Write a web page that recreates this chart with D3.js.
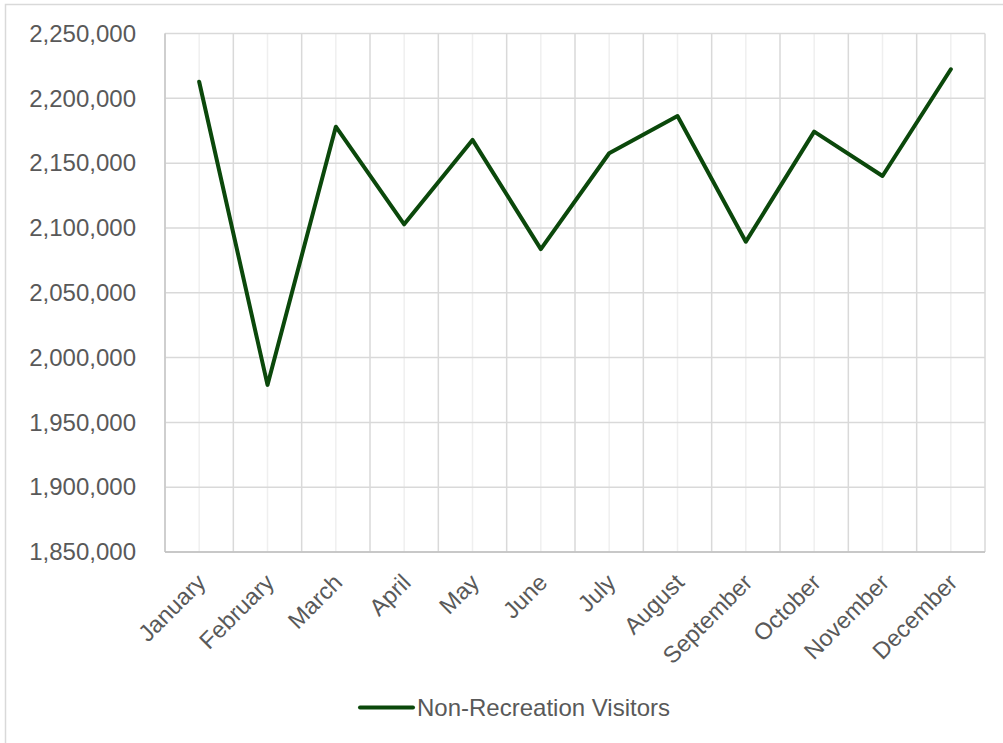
<!DOCTYPE html>
<html>
<head>
<meta charset="utf-8">
<script src="https://cdn.jsdelivr.net/npm/d3@7"></script>
<style>
  html, body { margin: 0; padding: 0; background: #fff; }
  svg { display: block; font-family: "Liberation Sans", Arial, sans-serif; }
</style>
</head>
<body>
<svg id="chart" width="1003" height="743"></svg>
<script>
// Monthly non-recreation visitor counts
const months = ["January", "February", "March", "April", "May", "June",
                "July", "August", "September", "October", "November", "December"];
const visitors = [2212800, 1978900, 2178100, 2102800, 2167900, 2083700,
                  2157600, 2186300, 2089400, 2174300, 2140100, 2222400];
const yTicks = [1850000, 1900000, 1950000, 2000000, 2050000, 2100000, 2150000, 2200000, 2250000];
const seriesName = "Non-Recreation Visitors";

const svg = d3.select("#chart");
const W = 1003, H = 743;
const margin = { left: 165, right: 18, top: 33.5, bottom: 191 };
const plotW = W - margin.left - margin.right;
const plotH = H - margin.top - margin.bottom;
const textColor = "#595959";
const lineColor = "#0b480b";

// outer chart frame
svg.append("rect")
  .attr("x", 5.5).attr("y", 4.5)
  .attr("width", W).attr("height", H)
  .attr("fill", "none").attr("stroke", "#d9d9d9").attr("stroke-width", 1.5);

const g = svg.append("g").attr("transform", `translate(${margin.left},${margin.top})`);

const x = d3.scaleBand().domain(months).range([0, plotW]).paddingInner(0).paddingOuter(0);
const y = d3.scaleLinear().domain([1850000, 2250000]).range([plotH, 0]);
const cx = m => x(m) + x.bandwidth() / 2;

// minor vertical gridlines at category centres
g.append("g").selectAll("line").data(months).join("line")
  .attr("x1", d => cx(d)).attr("x2", d => cx(d))
  .attr("y1", 0).attr("y2", plotH)
  .attr("stroke", "#efefef").attr("stroke-width", 1.5);

// major vertical gridlines at category boundaries
const bounds = months.map(m => x(m)).concat([plotW]);
g.append("g").selectAll("line").data(bounds).join("line")
  .attr("x1", d => d).attr("x2", d => d)
  .attr("y1", 0).attr("y2", plotH)
  .attr("stroke", "#d9d9d9").attr("stroke-width", 1.5);

// horizontal gridlines
g.append("g").selectAll("line").data(yTicks).join("line")
  .attr("x1", 0).attr("x2", plotW)
  .attr("y1", d => y(d)).attr("y2", d => y(d))
  .attr("stroke", "#d9d9d9").attr("stroke-width", 1.5);

// axis lines
g.append("line").attr("x1", 0).attr("x2", 0).attr("y1", 0).attr("y2", plotH)
  .attr("stroke", "#c8c8c8").attr("stroke-width", 1.5);
g.append("line").attr("x1", 0).attr("x2", plotW).attr("y1", plotH).attr("y2", plotH)
  .attr("stroke", "#bfbfbf").attr("stroke-width", 1.5);

// y axis labels
const fmt = d3.format(",");
const yAxis = d3.axisLeft(y).tickValues(yTicks).tickFormat(fmt).tickSize(0).tickPadding(29);
const yG = g.append("g").call(yAxis);
yG.select(".domain").remove();
yG.selectAll("text")
  .attr("fill", textColor)
  .style("font-size", "24px")
  .style("font-family", "'Liberation Sans', Arial, sans-serif");

// x axis labels, rotated
g.append("g").selectAll("text").data(months).join("text")
  .attr("transform", d => `translate(${cx(d) + 8},${plotH + 32}) rotate(-45)`)
  .attr("text-anchor", "end")
  .attr("fill", textColor)
  .style("font-size", "23.5px")
  .text(d => d);

// data line
const line = d3.line()
  .x((d, i) => cx(months[i]))
  .y(d => y(d));
g.append("path")
  .datum(visitors)
  .attr("d", line)
  .attr("fill", "none")
  .attr("stroke", lineColor)
  .attr("stroke-width", 4)
  .attr("stroke-linejoin", "round")
  .attr("stroke-linecap", "round");

// legend
const lg = svg.append("g").attr("transform", "translate(360,707.5)");
lg.append("line").attr("x1", 0).attr("x2", 53).attr("y1", 0).attr("y2", 0)
  .attr("stroke", lineColor).attr("stroke-width", 4).attr("stroke-linecap", "round");
lg.append("text").attr("x", 57).attr("y", 0).attr("dy", "0.35em")
  .attr("fill", textColor).style("font-size", "24px")
  .text(seriesName);
</script>
</body>
</html>
